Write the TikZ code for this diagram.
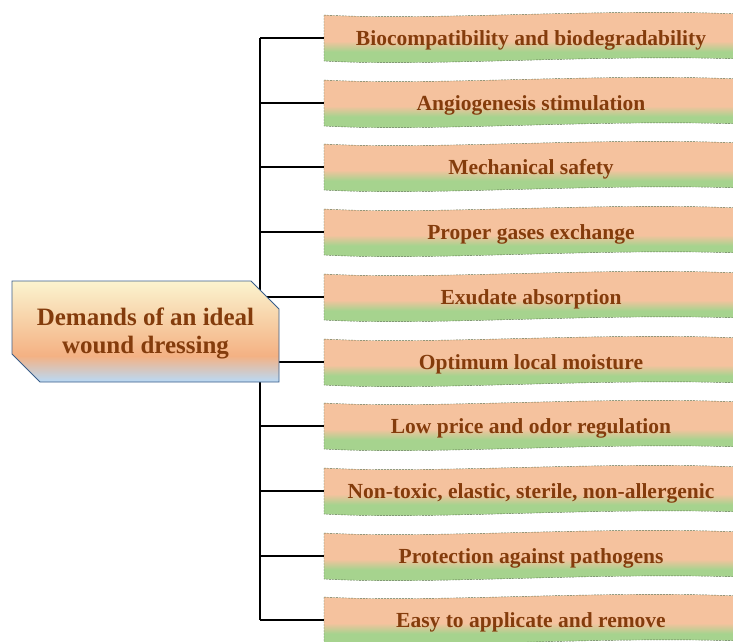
\documentclass[tikz,border=0pt]{standalone}
\usepackage{fontspec}
\setmainfont{Liberation Serif}
\usepackage{tikz}
\usetikzlibrary{
  calc,%
  % chamfered box on the left
  shapes.misc,%
  positioning
}
\definecolor{txtbrown}{HTML}{843C0C}
\definecolor{worange}{HTML}{F5C29E}
\definecolor{wgreen}{HTML}{A6D38E}
\definecolor{wborder}{HTML}{5E7452}
\definecolor{mcream}{HTML}{FBF4CF}
\definecolor{morange}{HTML}{F4B183}
\definecolor{mblue}{HTML}{BDD7EE}
\definecolor{mborder}{HTML}{385D8A}
\pgfdeclareverticalshading{wavefill}{100bp}{color(0bp)=(wgreen); color(38bp)=(wgreen);
  color(47bp)=(worange); color(100bp)=(worange)}
\pgfdeclareverticalshading{mainfill}{100bp}{color(0bp)=(mblue); color(26bp)=(mblue);
  color(38bp)=(morange); color(75bp)=(mcream); color(100bp)=(mcream)}
\tikzset{font=\bfseries\fontsize{21.5}{24}\selectfont}
\tikzset{wavetext/.style={text=txtbrown, minimum width=414pt, inner sep=0pt},
  wavebox/.style={shading=wavefill, draw=wborder, thin, dash pattern=on 2pt off 1pt},
  mainbox/.style={chamfered rectangle, chamfered rectangle corners={north east, south west},
    chamfered rectangle xsep=14pt, chamfered rectangle ysep=14pt,
    shading=mainfill, draw=mborder, thick, text=txtbrown,
    minimum width=267pt, minimum height=101pt, inner sep=0pt,
    font=\bfseries\fontsize{25}{28}\selectfont},
  branch/.style={black, line width=1.2pt}}

\begin{document}
\begin{tikzpicture}[x=1pt, y=-1pt]
  \clip (0,0) rectangle (733,641);
  % the ten demands
  \foreach \y/\txt [count=\i] in {38/Biocompatibility and biodegradability,
      103/Angiogenesis stimulation, 167/Mechanical safety,
      232/Proper gases exchange, 297/Exudate absorption,
      362/Optimum local moisture, 426/Low price and odor regulation,
      491/{Non-toxic, elastic, sterile, non-allergenic},
      556/Protection against pathogens, 620/Easy to applicate and remove}{
    \shadedraw[wavebox] (324,\y-23) .. controls (430,\y-17) and (600,\y-30) .. (740,\y-24)
      -- (740,\y+21) .. controls (600,\y+16) and (430,\y+29) .. (324,\y+23) -- cycle;
    \node[wavetext] (w\i) at (531,\y+2) {\txt};
    \coordinate (s\i) at (260,\y);
    \draw[branch] (s\i) -- (s\i -| w\i.west);
  }
  \draw[branch] (s1) -- (s10);
  \node[mainbox] (demands) at (145.5,331.5)
    {\raisebox{-2pt}[\height][\depth]{\begin{tabular}{@{}c@{}}Demands of an ideal\\wound dressing\end{tabular}}};
\end{tikzpicture}
\end{document}
